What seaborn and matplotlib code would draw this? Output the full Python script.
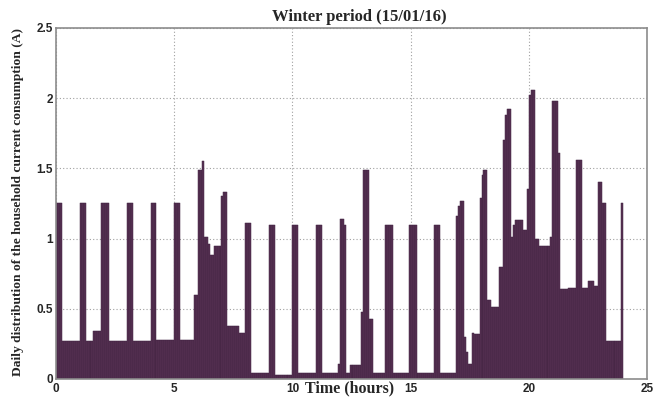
import numpy as np
import pandas as pd
import matplotlib
matplotlib.use("Agg")
import matplotlib.pyplot as plt
import seaborn as sns

# Household current profile, piecewise constant over 5-minute samples.
# seg_start_min: start of each constant stretch (minutes after midnight)
# seg_level_a:   current drawn during that stretch (A)
seg_start_min = [
    0, 15, 60, 75, 95, 115, 135, 180, 195, 240, 255, 300, 315,
    350, 360, 370, 375, 385, 390, 400, 420, 425, 435, 465, 480, 495,
    540, 555, 600, 615, 660, 675, 715, 720, 730, 735, 745, 775, 780,
    795, 805, 835, 855, 895, 915, 960, 975,
    1015, 1020, 1025, 1035, 1040, 1045, 1055, 1060, 1075, 1080, 1085,
    1095, 1105, 1125, 1135, 1140, 1145, 1155, 1160, 1165, 1185, 1195,
    1200, 1205, 1215, 1225, 1255, 1260, 1275, 1280, 1300, 1320, 1335,
    1350, 1365, 1375, 1385, 1395, 1435,
]
seg_level_a = [
    1.25, 0.27, 1.25, 0.27, 0.34, 1.25, 0.27, 1.25, 0.27, 1.25, 0.28, 1.25, 0.28,
    0.60, 1.49, 1.55, 1.01, 0.96, 0.88, 0.95, 1.30, 1.33, 0.38, 0.33, 1.11, 0.04,
    1.10, 0.03, 1.10, 0.04, 1.10, 0.04, 0.11, 1.14, 1.10, 0.04, 0.10, 0.48, 1.49,
    0.43, 0.04, 1.10, 0.04, 1.10, 0.04, 1.10, 0.04,
    1.16, 1.23, 1.27, 0.30, 0.19, 0.11, 0.33, 0.32, 1.29, 1.45, 1.49,
    0.56, 0.51, 0.80, 1.70, 1.88, 1.92, 1.01, 1.10, 1.13, 1.06, 1.35,
    2.02, 2.06, 1.00, 0.95, 1.01, 1.98, 1.61, 0.64, 0.645, 1.56, 0.65,
    0.70, 0.66, 1.40, 1.25, 0.27, 1.25,
]
day_minutes = 1440
step_min = 5

x_ticks = [0, 5, 10, 15, 20, 25]
y_ticks = [0, 0.5, 1, 1.5, 2, 2.5]
x_tick_labels = ["0", "5", "10", "15", "20", "25"]
y_tick_labels = ["0", "0.5", "1", "1.5", "2", "2.5"]

# Expand stretches into 5-minute samples
bounds = np.array(seg_start_min + [day_minutes])
counts = np.diff(bounds) // step_min
current = np.repeat(np.array(seg_level_a), counts)
t_hours = (np.arange(len(current)) * step_min + step_min / 2) / 60.0
edges = (np.arange(0, day_minutes + step_min, step_min) / 60.0).tolist()
df = pd.DataFrame({"t": t_hours, "current": current})

sns.set_style("white")
plt.rcParams["font.family"] = ["Liberation Serif", "DejaVu Serif"]

fig = plt.figure(figsize=(6.53, 4.01), dpi=100)
ax = fig.add_axes([0.0858, 0.0549, 0.9050, 0.8753])

sns.histplot(
    data=df, x="t", weights="current", bins=edges, ax=ax,
    stat="count", element="bars", fill=True,
    color="#573253", alpha=1.0, edgecolor="#3f2140", linewidth=0.35,
)

ax.set_xlim(0, 25)
ax.set_ylim(0, 2.5)
ax.set_xticks(x_ticks)
ax.set_yticks(y_ticks)
ax.set_xticklabels(x_tick_labels)
ax.set_yticklabels(y_tick_labels)
for lbl in ax.get_xticklabels() + ax.get_yticklabels():
    lbl.set_fontfamily("Liberation Sans")
    lbl.set_fontweight("bold")
    lbl.set_fontsize(8.5)

ax.tick_params(axis="both", direction="in", length=3, width=0.8,
               color="#8c8c8c", pad=2)
ax.tick_params(axis="x", pad=3)

ax.grid(True, linestyle=(0, (1, 2)), color="#a0a0a0", linewidth=0.8)
ax.set_axisbelow(True)

for sp in ax.spines.values():
    sp.set_visible(True)
    sp.set_color("#8c8c8c")
    sp.set_linewidth(1.2)

ax.set_title("Winter period (15/01/16)", fontsize=12, fontweight="bold",
             pad=5, x=0.5135)
ax.set_xlabel("Time (hours)", fontsize=11.5, fontweight="bold")
ax.xaxis.set_label_coords(0.4966, -0.004)
ax.xaxis.label.set_va("top")
ax.set_ylabel("Daily distribution of the household current consumption (A)",
              fontsize=9.7, fontweight="bold")
ax.yaxis.set_label_coords(-0.054, 0.503)

fig.savefig("out.png", dpi=100)
